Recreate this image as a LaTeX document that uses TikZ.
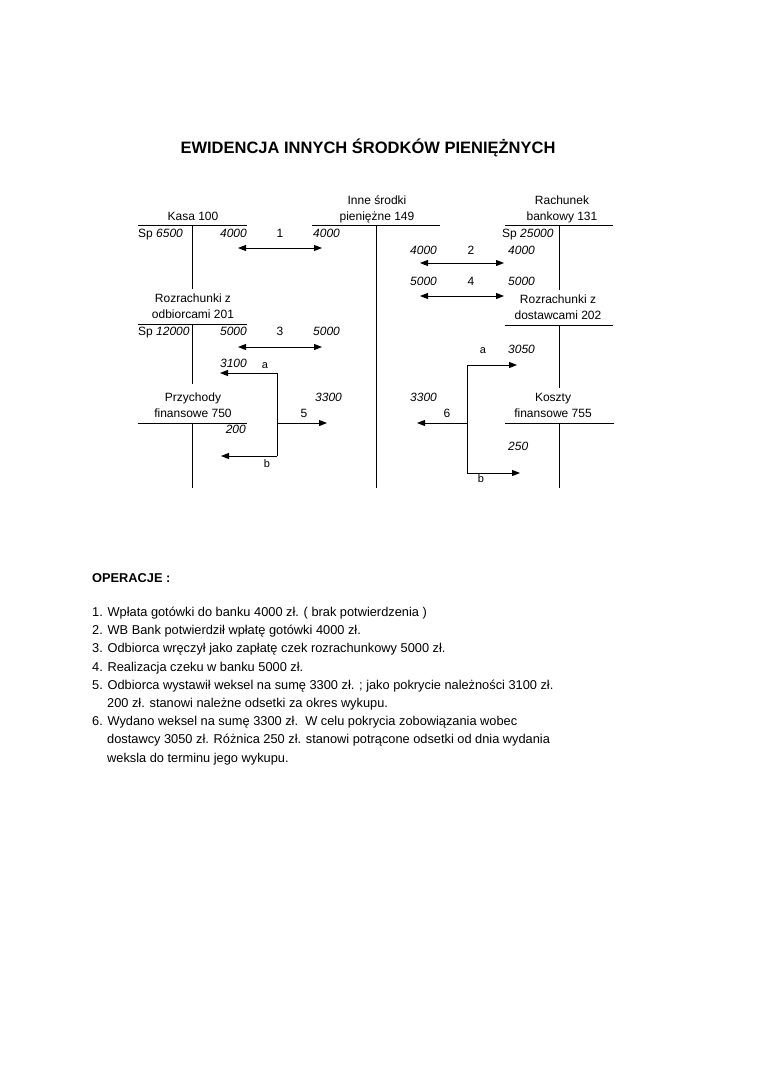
\documentclass[tikz,border=0pt]{standalone}
\usepackage{fontspec}
\setmainfont{Liberation Sans}
\usetikzlibrary{arrows.meta}

\begin{document}
\begin{tikzpicture}[
    x=1pt, y=-1pt,
    heading/.style={font=\fontsize{16.5}{19}\selectfont\bfseries, inner sep=0},
    acc/.style={font=\fontsize{12}{16}\selectfont, align=center, inner sep=0, anchor=base},
    amt/.style={font=\fontsize{12}{14}\selectfont\itshape, inner sep=0},
    opno/.style={font=\fontsize{12}{14}\selectfont, inner sep=0, anchor=base},
    tag/.style={font=\fontsize{11}{13}\selectfont, inner sep=0, anchor=base},
    opline/.style={font=\fontsize{12.8}{15}\selectfont, inner sep=0, anchor=base west},
    tline/.style={line width=1pt},
    arrow/.style={-{Triangle[length=8pt,width=6pt]}, line width=1pt},
    darrow/.style={{Triangle[length=8pt,width=6pt]}-{Triangle[length=8pt,width=6pt]}, line width=1pt}
]
    \useasboundingbox (0,0) rectangle (760,1075);

    % Title
    \node[heading] (title) at (368,148) {EWIDENCJA INNYCH ŚRODKÓW PIENIĘŻNYCH};

    % Kasa 100
    \node[acc] (kasa) at (193,220.5) {Kasa 100};
    \draw[tline] (138,226) -- (247,226) (192,226) -- (192,289);
    \node[opno, anchor=base west] (kasasp) at (138,237.3) {Sp \textit{6500}};
    \node[amt, anchor=base east] (kasama) at (247,237.3) {4000};

    % Inne srodki pieniezne 149
    \node[acc] (inne) at (377,220.3) {Inne środki\\pieniężne 149};
    \draw[tline] (312,226) -- (440,226) (376,226) -- (376,488);
    \node[amt, anchor=base west] (innewn1) at (313,237.3) {4000};
    \node[amt, anchor=base west] (innema2) at (410,254.3) {4000};
    \node[amt, anchor=base west] (innema4) at (410,285.3) {5000};
    \node[amt, anchor=base west] (innewn3) at (313,335.3) {5000};

    % Rachunek bankowy 131
    \node[acc] (bank) at (562,220.3) {Rachunek\\bankowy 131};
    \draw[tline] (505,226) -- (613,226) (559,226) -- (559,290);
    \node[opno, anchor=base west] (banksp) at (502,237.3) {Sp \textit{25000}};
    \node[amt, anchor=base west] (bankwn2) at (508,254.3) {4000};
    \node[amt, anchor=base west] (bankwn4) at (508,285.3) {5000};

    % Rozrachunki z dostawcami 202
    \node[acc] (dost) at (558,319.3) {Rozrachunki z\\dostawcami 202};
    \draw[tline] (505,325) -- (613,325) (559,325) -- (559,388);
    \node[amt, anchor=base west] (dostwn) at (508,353.3) {3050};

    % Rozrachunki z odbiorcami 201
    \node[acc] (odb) at (193,318.5) {Rozrachunki z\\odbiorcami 201};
    \draw[tline] (138,324) -- (247,324) (192,324) -- (192,384);
    \node[opno, anchor=base west] (odbsp) at (138,335.3) {Sp \textit{12000}};
    \node[amt, anchor=base east] (odbma3) at (247,335.3) {5000};
    \node[amt, anchor=base east] (odbma5) at (247,367.5) {3100};

    % Przychody finansowe 750
    \node[acc] (przych) at (193,417.3) {Przychody\\finansowe 750};
    \draw[tline] (138,423) -- (247,423) (192,423) -- (192,488);
    \node[amt, anchor=base east] (przychma) at (246,433.3) {200};
    \node[amt, anchor=base west] (innewn5) at (315,401.3) {3300};

    % Koszty finansowe 755
    \node[acc] (koszty) at (553,417.3) {Koszty\\finansowe 755};
    \draw[tline] (505,423) -- (614,423) (559,423) -- (559,488);
    \node[amt, anchor=base west] (kosztywn) at (508,450.3) {250};
    \node[amt, anchor=base west] (innema6) at (410,401.3) {3300};

    % Operation numbers
    \node[opno] (op1) at (280,237.3) {1};
    \node[opno] (op2) at (471,254.3) {2};
    \node[opno] (op3) at (280,335.3) {3};
    \node[opno] (op4) at (471,285.3) {4};
    \node[opno] (op5) at (304,417.3) {5};
    \node[opno] (op6) at (447,417.3) {6};
    \node[tag] (op5a) at (265,368) {a};
    \node[tag] (op5b) at (267,467) {b};
    \node[tag] (op6a) at (483,353) {a};
    \node[tag] (op6b) at (481,482) {b};

    % Arrow ends
    \coordinate (a1l) at (238,248);
    \coordinate (a1r) at (322,248);
    \coordinate (a2l) at (420,263);
    \coordinate (a2r) at (504,263);
    \coordinate (a3l) at (238,347);
    \coordinate (a3r) at (322,347);
    \coordinate (a4l) at (420,296);
    \coordinate (a4r) at (504,296);
    \coordinate (f5a) at (277,373);
    \coordinate (f5m) at (277,423);
    \coordinate (f5b) at (277,456);
    \coordinate (p5a) at (220,373);
    \coordinate (p5m) at (327,423);
    \coordinate (p5b) at (221,456);
    \coordinate (f6a) at (467,365);
    \coordinate (f6m) at (467,423);
    \coordinate (f6b) at (467,473);
    \coordinate (p6a) at (517,365);
    \coordinate (p6m) at (417,423);
    \coordinate (p6b) at (520,473);

    % Arrows
    \draw[darrow] (a1l) -- (a1r);
    \draw[darrow] (a2l) -- (a2r);
    \draw[darrow] (a3l) -- (a3r);
    \draw[darrow] (a4l) -- (a4r);
    \draw[tline] (f5a) -- (f5b);
    \draw[arrow] (f5a) -- (p5a);
    \draw[arrow] (f5m) -- (p5m);
    \draw[arrow] (f5b) -- (p5b);
    \draw[tline] (f6a) -- (f6b);
    \draw[arrow] (f6a) -- (p6a);
    \draw[arrow] (f6m) -- (p6m);
    \draw[arrow] (f6b) -- (p6b);

    % Operations
    \node[opline, font=\fontsize{12.8}{15}\selectfont\bfseries] (ophead) at (92,582.5) {OPERACJE :};
    \node[opline] (ln1) at (92,616.5) {1. Wpłata gotówki do banku 4000 zł. ( brak potwierdzenia )};
    \node[opline] (ln2) at (92,634.7) {2. WB Bank potwierdził wpłatę gotówki 4000 zł.};
    \node[opline] (ln3) at (92,652.9) {3. Odbiorca wręczył jako zapłatę czek rozrachunkowy 5000 zł.};
    \node[opline] (ln4) at (92,671.1) {4. Realizacja czeku w banku 5000 zł.};
    \node[opline] (ln5) at (92,689.3) {5. Odbiorca wystawił weksel na sumę 3300 zł. ; jako pokrycie należności 3100 zł.};
    \node[opline] (ln5b) at (107,707.5) {200 zł. stanowi należne odsetki za okres wykupu.};
    \node[opline] (ln6) at (92,725.7) {6. Wydano weksel na sumę 3300 zł.\ \ W celu pokrycia zobowiązania wobec};
    \node[opline] (ln6b) at (107,743.9) {dostawcy 3050 zł. Różnica 250 zł. stanowi potrącone odsetki od dnia wydania};
    \node[opline] (ln6c) at (107,762.1) {weksla do terminu jego wykupu.};
\end{tikzpicture}
\end{document}
